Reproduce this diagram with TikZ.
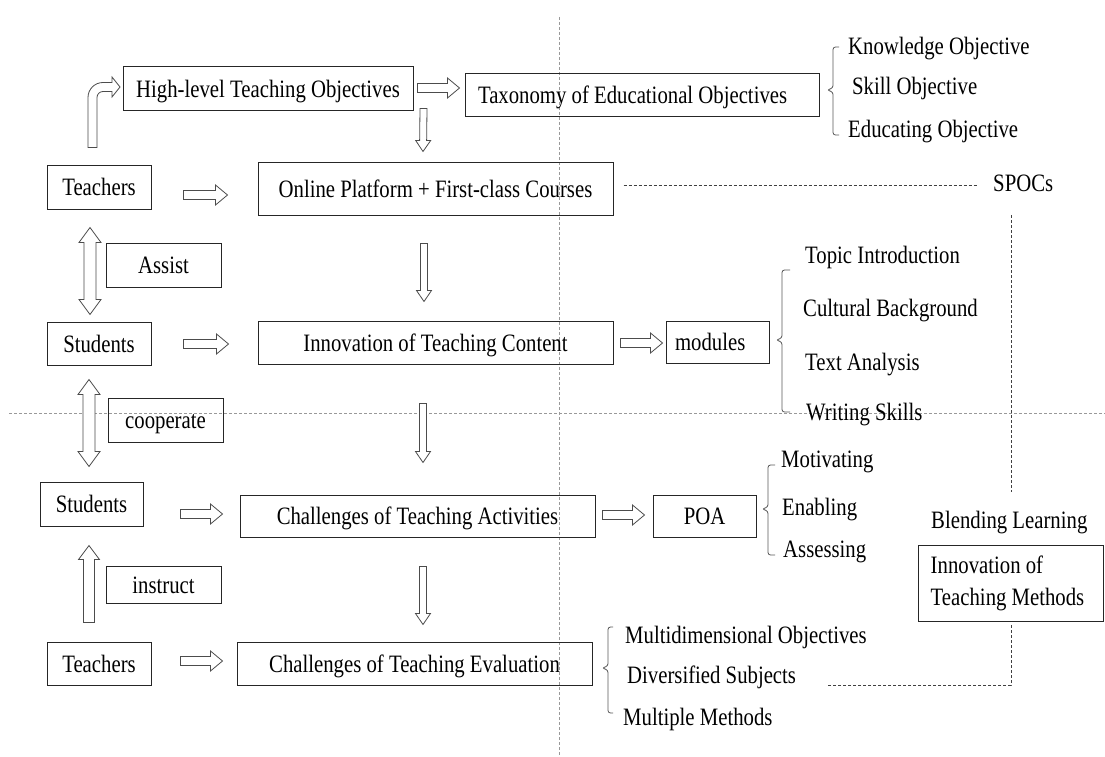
\documentclass[tikz,border=0pt]{standalone}
\usepackage{fontspec}
\setmainfont[FakeStretch=0.83]{Liberation Serif}
\usetikzlibrary{calc}

\newcommand\bameasure[2]{%
  \path let \p1=(#1), \p2=(#2) in \pgfextra{%
    \pgfmathsetmacro\baang{atan2(\y2-\y1,\x2-\x1)}%
    \pgfmathsetmacro\balen{veclen(\x2-\x1,\y2-\y1)}%
    \xdef\baAng{\baang}\xdef\baLen{\balen}};%
}
% #1 from, #2 to, #3 half shaft, #4 half head, #5 head length
\newcommand\blockarrow[5]{%
  \bameasure{#1}{#2}%
  \begin{scope}[shift={(#1)},rotate=\baAng]
    \draw[blk] (0pt,#3pt) -- ({\baLen pt-#5pt},#3pt) -- ({\baLen pt-#5pt},#4pt)
      -- (\baLen pt,0pt) -- ({\baLen pt-#5pt},-#4pt) -- ({\baLen pt-#5pt},-#3pt)
      -- (0pt,-#3pt) -- cycle;
  \end{scope}}
\newcommand\dblarrow[5]{%
  \bameasure{#1}{#2}%
  \begin{scope}[shift={(#1)},rotate=\baAng]
    \draw[blk] (0pt,0pt) -- (#5pt,#4pt) -- (#5pt,#3pt) -- ({\baLen pt-#5pt},#3pt)
      -- ({\baLen pt-#5pt},#4pt) -- (\baLen pt,0pt) -- ({\baLen pt-#5pt},-#4pt)
      -- ({\baLen pt-#5pt},-#3pt) -- (#5pt,-#3pt) -- (#5pt,-#4pt) -- cycle;
  \end{scope}}

\begin{document}
\begin{tikzpicture}[x=1pt,y=-1pt,
  every node/.style={font=\fontsize{25}{32}\selectfont, text=black},
  box/.style={draw=black!85, line width=1pt, inner sep=0pt, text height=21pt, text depth=4pt},
  mbox/.style={draw=black!85, line width=1pt, inner sep=0pt},
  lbl/.style={anchor=base west, inner sep=0pt, text height=17pt, text depth=5pt},
  blk/.style={draw=black!70, line width=0.8pt, fill=white, line join=miter},
  brk/.style={draw=black!65, line width=0.8pt, rounded corners=2.5pt},
  cross/.style={draw=black!40, line width=0.6pt, dash pattern=on 3pt off 2pt},
  link/.style={draw=black!75, line width=0.8pt, dash pattern=on 3pt off 2pt}]

\fill[white] (0,0) rectangle (1105,757);
\useasboundingbox (0,0) rectangle (1105,757);

% background dashed cross
\draw[cross] (559,17) -- (559,757);
\draw[cross] (9,413) -- (1105,413);

% boxes
\node[box, minimum width=290pt, minimum height=44pt] (hl) at (268,89) {High-level Teaching Objectives};
\node[box, minimum width=354pt, minimum height=43pt] (tax) at (642,95.5) {\makebox[328pt][l]{Taxonomy of Educational Objectives}};
\node[box, minimum width=104pt, minimum height=44pt] (t1) at (99,187) {Teachers};
\node[box, minimum width=355pt, minimum height=53pt] (online) at (435.5,188.5) {Online Platform + First-class Courses};
\node[box, minimum width=115pt, minimum height=44pt] (assist) at (163.5,265) {Assist};
\node[box, minimum width=104pt, minimum height=43pt] (s1) at (99,343.5) {Students};
\node[box, minimum width=355pt, minimum height=43pt] (content) at (435.5,342.5) {Innovation of Teaching Content};
\node[box, minimum width=103pt, minimum height=42pt] (modules) at (717.5,342) {\makebox[85pt][l]{modules}};
\node[box, minimum width=115pt, minimum height=44pt] (coop) at (165.5,420) {cooperate};
\node[box, minimum width=103pt, minimum height=44pt] (s2) at (91.5,504) {Students};
\node[box, minimum width=355pt, minimum height=42pt] (act) at (417.5,516) {Challenges of Teaching Activities};
\node[box, minimum width=103pt, minimum height=42pt] (poa) at (704.5,516) {POA};
\node[box, minimum width=115pt, minimum height=37pt] (instr) at (163.5,584.5) {instruct};
\node[box, minimum width=104pt, minimum height=43pt] (t2) at (99,663.5) {Teachers};
\node[box, minimum width=355pt, minimum height=43pt] (eval) at (414.5,663.5) {Challenges of Teaching Evaluation};
\node[mbox, minimum width=185pt, minimum height=76pt, align=flush left] (methods) at (1010.5,583) {Innovation of\\Teaching Methods\hspace*{6pt}};

% labels
\node[lbl] (ko) at (848,55) {Knowledge Objective};
\node[lbl] (so) at (852,95) {Skill Objective};
\node[lbl] (eo) at (848,138) {Educating Objective};
\node[lbl] (spocs) at (993,191) {SPOCs};
\node[lbl] (ti) at (805,263) {Topic Introduction};
\node[lbl] (cb) at (803,316) {Cultural Background};
\node[lbl] (ta) at (805,370) {Text Analysis};
\node[lbl] (ws) at (806,420) {Writing Skills};
\node[lbl] (mot) at (781,467) {Motivating};
\node[lbl] (ena) at (782,515) {Enabling};
\node[lbl] (ass) at (783,557) {Assessing};
\node[lbl] (blend) at (931,528) {Blending Learning};
\node[lbl] (mo) at (625,643) {Multidimensional Objectives};
\node[lbl] (ds) at (627,683) {Diversified Subjects};
\node[lbl] (mm) at (623,725) {Multiple Methods};

% brackets
\draw[brk] (839,47) -| (833,88) -- (827,90) -- (833,92) |- (839,135);
\draw[brk] (790,270) -| (782,338) -- (776,340) -- (782,342) |- (790,412);
\draw[brk] (775,465) -| (768,507) -- (762,509) -- (768,511) |- (775,555);
\draw[brk] (613,627) -| (608,666) -- (602,668) -- (608,670) |- (613,713);

% horizontal block arrows
\blockarrow{$(t1.east)+(32,8)$}{$(online.west)+(-30,6.5)$}{4.5}{10}{12}
\blockarrow{$(s1.east)+(32,0.5)$}{$(content.west)+(-29,1.5)$}{4.5}{10}{12}
\blockarrow{$(s2.east)+(37,10)$}{$(act.west)+(-17,-2)$}{4.5}{10}{12}
\blockarrow{$(t2.east)+(29,-2.5)$}{$(eval.west)+(-14,-2.5)$}{4.5}{10}{12}
\blockarrow{$(hl.east)+(4,-1)$}{$(tax.west)+(-5,-7.5)$}{4.5}{10}{12}
\blockarrow{$(content.east)+(7,0.5)$}{$(modules.west)+(-3,1)$}{4.5}{10}{12}
\blockarrow{$(act.east)+(7,-1)$}{$(poa.west)+(-8,-1)$}{4.5}{10}{12}

% vertical down block arrows
\blockarrow{$(hl.south east)+(10,-3)$}{$(online.north)+(-12.5,-10)$}{3.5}{7.5}{11}
\blockarrow{$(online.south)+(-11.5,28)$}{$(content.north)+(-11.5,-19)$}{3.5}{7.5}{11}
\blockarrow{$(content.south)+(-12.5,39)$}{$(act.north)+(5.5,-32)$}{3.5}{7.5}{11}
\blockarrow{$(act.south)+(5.5,29)$}{$(eval.north)+(8.5,-17)$}{3.5}{7.5}{11}

% left column arrows
\dblarrow{$(t1.south)+(-9,18)$}{$(s1.north)+(-9,-7)$}{6}{11}{15}
\dblarrow{$(s1.south)+(-10,14)$}{$(s2.north)+(-2.5,-15)$}{6}{11}{15}
\blockarrow{$(t2.north)+(-10,-19)$}{$(s2.south)+(-2.5,19)$}{5.5}{10.5}{14}

% bent arrow Teachers -> High-level objectives
\coordinate (bentfoot) at ($(t1.north)+(-6.5,-17)$);
\begin{scope}[shift={(bentfoot)}]
\draw[blk] (-4.5,0) -- (-4.5,-50) .. controls (-4.5,-58.3) and (2.2,-65) .. (10.5,-65)
  -- (19.5,-65) -- (19.5,-70.5) -- (27.5,-60.5) -- (19.5,-50.5) -- (19.5,-56) -- (10.5,-56)
  .. controls (7.2,-56) and (4.5,-53.3) .. (4.5,-50) -- (4.5,0) -- cycle;
\end{scope}

% dashed links
\draw[link] ($(online.east)+(10,-3.5)$) -- ($(spocs.west)+(-16,0)$);
\coordinate (vtop) at (1011,215);
\coordinate (vmid) at (1011,492);
\draw[link] (vtop) -- (vmid);
\coordinate (vlow) at (1011,625);
\coordinate (vcorner) at (1011,685);
\coordinate (vend) at (827,685);
\draw[link] (vlow) -- (vcorner) -- (vend);

\end{tikzpicture}
\end{document}
